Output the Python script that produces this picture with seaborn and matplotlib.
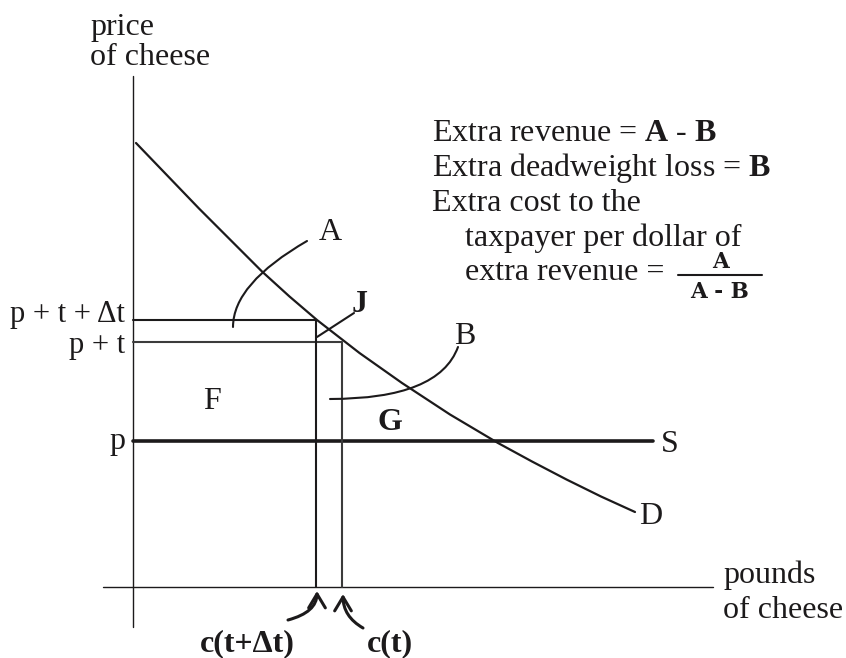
import matplotlib.pyplot as plt
import seaborn as sns

# price levels on the vertical axis
price_p = 2.92
price_p_t = 4.90
price_p_t_dt = 5.34

# quantities on the horizontal axis
qty_c_t = 4.18
qty_c_t_dt = 3.66
supply_end = 10.40

# demand curve
demand_q = [0.06, 1.32, 2.58, 3.13, 3.68, 4.53, 5.38, 6.34, 7.30,
            7.98, 8.67, 9.36, 10.04]
demand_p = [8.88, 7.57, 6.31, 5.81, 5.34, 4.68, 4.08, 3.45, 2.88,
            2.51, 2.15, 1.81, 1.50]

# extent of the two axis lines
axis_q = [-0.60, 11.60]
axis_p = [-0.80, 10.22]

# page layout: pixel of the origin and pixels per unit
X0, Y0, S = 133, 587, 50
INK = '#1c1a1b'
FS = 23


def px(x, y):
    '''pixel position on the page -> data coordinates'''
    return (x - X0) / S, (Y0 - y) / S


def label(x, y, s, ha='left', weight='normal', size=FS, family=None):
    ax.text(*px(x, y), s, ha=ha, va='baseline', fontsize=size,
            fontweight=weight, color=INK, family=family)


def leader(tail, tip, style, arrow='-', lw=1.5, scale=10):
    ax.annotate('', xy=px(*tip), xytext=px(*tail),
                arrowprops=dict(arrowstyle=arrow, connectionstyle=style,
                                color=INK, lw=lw, shrinkA=0, shrinkB=0,
                                mutation_scale=scale))


sns.set_theme(style='white')
plt.rcParams['font.family'] = ['Liberation Serif', 'DejaVu Serif']
plt.rcParams['mathtext.fontset'] = 'custom'
plt.rcParams['mathtext.rm'] = 'Liberation Serif'
plt.rcParams['mathtext.bf'] = 'Liberation Serif:bold'

fig = plt.figure(figsize=(8.46, 6.58), dpi=100)
ax = fig.add_axes([0, 0, 1, 1])
ax.set_xlim(px(0, 0)[0], px(846, 0)[0])
ax.set_ylim(px(0, 658)[1], px(0, 0)[1])
ax.axis('off')

# axes
ax.plot(axis_q, [0, 0], color=INK, lw=1)
ax.plot([0, 0], axis_p, color=INK, lw=1)

# supply, tax rectangles, demand
ax.plot([0, supply_end], [price_p, price_p], color=INK, lw=2.6)
ax.plot([0, qty_c_t, qty_c_t], [price_p_t, price_p_t, 0],
        color='#3b3b3b', lw=1.5)
ax.plot([0, qty_c_t_dt, qty_c_t_dt], [price_p_t_dt, price_p_t_dt, 0],
        color=INK, lw=1.5)
sns.lineplot(x=demand_q, y=demand_p, sort=False, color=INK, lw=1.6, ax=ax)

# axis titles
label(90, 35, 'price')
label(90, 65, 'of cheese')
label(723, 583, 'pounds')
label(723, 618, 'of cheese')

# price labels
label(125, 322, 'p + t + Δt', ha='right', size=22)
label(125, 353, 'p + t', ha='right', size=22)
label(125, 449, 'p', ha='right')

# area and curve labels
label(212, 409, 'F', ha='center')
label(390, 430, 'G', ha='center', weight='bold')
label(360, 312, 'J', ha='center', weight='bold')
label(330, 240, 'A', ha='center')
label(465, 344, 'B', ha='center')
label(661, 452, 'S')
label(639, 524, 'D')
label(247, 651, 'c(t+Δt)', ha='center', weight='bold')
label(390, 651, 'c(t)', ha='center', weight='bold')

# leaders
leader((307, 241), (233, 327), 'angle3,angleA=30,angleB=90')
leader((458, 347), (330, 399), 'angle3,angleA=70,angleB=0')
leader((354, 313), (317, 337), 'arc3,rad=0')
arrow = '->,head_length=0.5,head_width=0.3'
leader((288, 620), (317, 591), 'angle3,angleA=15,angleB=90',
       arrow=arrow, lw=2.2, scale=20)
leader((363, 628), (343, 594), 'angle3,angleA=150,angleB=90',
       arrow=arrow, lw=2.2, scale=20)

# explanation block
label(432, 141, r'Extra revenue = $\mathbf{A}$ - $\mathbf{B}$')
label(432, 176, r'Extra deadweight loss = $\mathbf{B}$')
label(432, 211, 'Extra cost to the')
label(465, 246, 'taxpayer per dollar of')
label(465, 280, 'extra revenue =')
bar_y = px(0, 275)[1]
ax.plot([px(678, 0)[0], px(762, 0)[0]], [bar_y, bar_y], color=INK, lw=1.5)
label(720, 268, 'A', ha='center', weight='bold', size=15.5,
      family='DejaVu Serif')
label(720, 298, 'A - B', ha='center', weight='bold', size=15.5,
      family='DejaVu Serif')

fig.savefig('out.png', dpi=100)
